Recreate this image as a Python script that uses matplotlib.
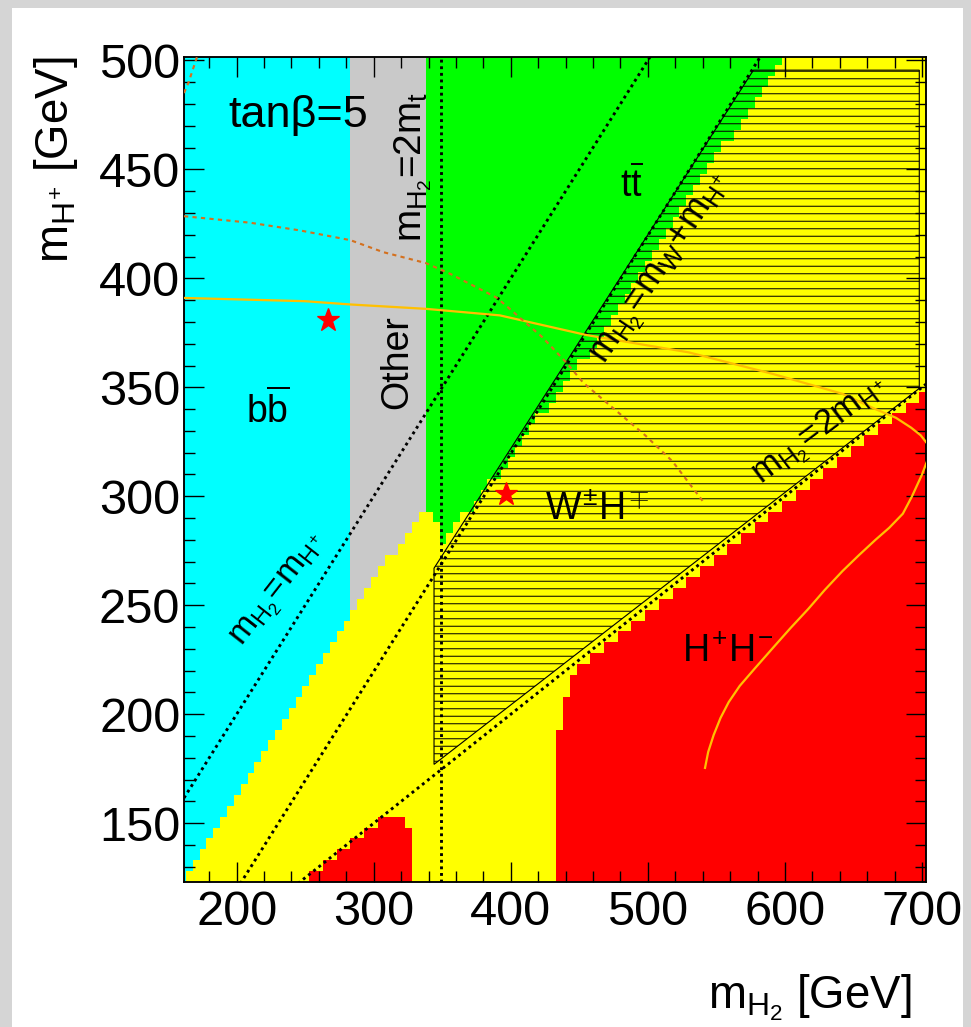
import numpy as np
import matplotlib
matplotlib.use("Agg")
import matplotlib.pyplot as plt
from matplotlib.colors import ListedColormap
from matplotlib.patches import Polygon, Rectangle

plt.rcParams['font.family'] = ['Liberation Sans', 'DejaVu Sans']
plt.rcParams['mathtext.fontset'] = 'custom'
plt.rcParams['mathtext.rm'] = 'Liberation Sans'
plt.rcParams['mathtext.it'] = 'Liberation Sans'
plt.rcParams['mathtext.sf'] = 'Liberation Sans'
plt.rcParams['mathtext.bf'] = 'Liberation Sans:bold'
plt.rcParams['hatch.linewidth'] = 0.8

# ------------------------------------------------------------------ data
X_LIM = (161.6, 702.9)
Y_LIM = (122.9, 501.4)
BIN_W = 5.0
BIN_X_RANGE = (158.0, 708.0)
BIN_Y_RANGE = (118.0, 503.0)

MT = 174.5   # top mass used for the 2 m_t line
MW = 80.4    # W mass

# region boundaries in (m_H2, m_H+)
BB_XMAX = 283.0
BB_EDGE_X = [158.0, 283.0]
BB_EDGE_Y = [120.5, 245.5]

OTHER_XMAX = 338.0
OTHER_EDGE_X = [283.0, 338.0]
OTHER_EDGE_Y = [245.75, 295.25]

TT_EDGE_X = [338.0, 343.0, 343.01, 348.0, 348.01, 350.0, 369.0, 385.0, 404.0,
             420.0, 440.0, 456.0, 557.0, 598.0, 640.0]
TT_EDGE_Y = [293.0, 293.0, 288.0, 288.0, 278.0, 280.0, 294.0, 306.0, 320.0,
             336.0, 352.0, 365.0, 462.0, 500.0, 542.0]

HH_XMIN = 433.0
HH_EDGE_X = [433.0, 438.0, 438.01, 443.0, 443.01, 703.0, 710.0]
HH_EDGE_Y = [194.0, 194.0, 209.0, 209.0, 219.0, 348.0, 351.5]

HH_LOW_XMIN, HH_LOW_XMAX = 253.0, 328.0
HH_LOW_EDGE_X = [253.0, 313.0, 323.0, 323.01, 328.0]
HH_LOW_EDGE_Y = [124.5, 154.5, 154.5, 150.0, 150.0]

REGION_COLORS = ['#FFFF00', '#00FFFF', '#C9C9C9', '#00FF00', '#FF0000']

# hatched W+-H-+ region
WH_POLY_X = [344.0, 344.0, 577.0, 698.0, 698.0]
WH_POLY_Y = [177.0, 267.0, 495.5, 495.5, 349.5]

# orange curves
GOLD_X = [161.6, 250, 283, 338, 392, 455, 530, 592, 642, 666, 681, 692, 699,
          704, 705, 703.6, 700, 692.7, 686, 676, 666, 654, 642, 629, 617, 604,
          592, 578, 567, 559, 553, 548, 544, 541.7]
GOLD_Y = [391, 389.5, 388, 386, 383, 374, 366, 356, 347, 340, 336, 331.5, 328,
          324, 321, 316, 310, 300, 292, 285.5, 280, 273, 265.7, 257, 248.3, 239.5,
          231, 221, 213, 205.6, 198.3, 190.5, 182.7, 175.4]
DOT_ORANGE_X = [161.6, 210, 246, 283, 307, 338, 356, 390, 423, 441, 453, 498, 518, 541]
DOT_ORANGE_Y = [428.5, 425.5, 422, 417.5, 412, 407, 402, 391, 373, 361, 352, 328, 316, 297]
DOT_ORANGE2_X = [161.6, 165.0, 171.0]
DOT_ORANGE2_Y = [485.0, 490.0, 501.4]

STAR_X = [266.6, 396.5]
STAR_Y = [380.9, 301.1]

X_TICKS = [200, 300, 400, 500, 600, 700]
Y_TICKS = [150, 200, 250, 300, 350, 400, 450, 500]

# ------------------------------------------------------------------ region map
xe = np.arange(BIN_X_RANGE[0], BIN_X_RANGE[1] + 0.1, BIN_W)
ye = np.arange(BIN_Y_RANGE[0], BIN_Y_RANGE[1] + 0.1, BIN_W)
xc = 0.5 * (xe[:-1] + xe[1:])
yc = 0.5 * (ye[:-1] + ye[1:])
X, Y = np.meshgrid(xc, yc)
code = np.zeros(X.shape, dtype=int)
code[(X < BB_XMAX) & (Y > np.interp(X, BB_EDGE_X, BB_EDGE_Y))] = 1
code[(X >= BB_XMAX) & (X < OTHER_XMAX) & (Y > np.interp(X, OTHER_EDGE_X, OTHER_EDGE_Y))] = 2
code[(X >= OTHER_XMAX) & (Y > np.interp(X, TT_EDGE_X, TT_EDGE_Y))] = 3
code[(X >= HH_XMIN) & (Y < np.interp(X, HH_EDGE_X, HH_EDGE_Y))] = 4
code[(X >= HH_LOW_XMIN) & (X < HH_LOW_XMAX) & (Y < np.interp(X, HH_LOW_EDGE_X, HH_LOW_EDGE_Y))] = 4

# ------------------------------------------------------------------ figure
DPI = 90
W, H = 971, 1027
fig = plt.figure(figsize=(W / DPI, H / DPI), dpi=DPI, facecolor='#D5D5D5')
fig.patches.append(Rectangle((12 / W, 0), (963 - 12) / W, 1 - 8 / H,
                             transform=fig.transFigure, facecolor='white',
                             edgecolor='none', zorder=-5))

ax = fig.add_axes([184 / W, 1 - 882.3 / H, (926 - 184) / W, (882.3 - 57.3) / H])
ax.set_zorder(2)
ax.pcolormesh(xe, ye, code, cmap=ListedColormap(REGION_COLORS), vmin=-0.5,
              vmax=4.5, shading='flat', antialiased=False, zorder=1)

ax.add_patch(Polygon(np.column_stack([WH_POLY_X, WH_POLY_Y]), closed=True,
                     fill=False, hatch='--', edgecolor='black', lw=0.9, zorder=2))

dot = dict(color='black', lw=2.3, ls=(0, (1, 1.3)), dash_capstyle='butt', zorder=3)
xl = np.array([X_LIM[0], X_LIM[1]])
ax.plot(xl, xl, **dot)                 # m_H2 = m_H+
ax.plot(xl, xl - MW, **dot)            # m_H2 = m_W + m_H+
ax.plot(xl, xl / 2.0, **dot)           # m_H2 = 2 m_H+
ax.plot([2 * MT, 2 * MT], Y_LIM, **dot)  # m_H2 = 2 m_t

ax.plot(GOLD_X, GOLD_Y, color='#FFC000', lw=1.8, zorder=4,
        solid_joinstyle='round')
ax.plot(DOT_ORANGE_X, DOT_ORANGE_Y, color='#D4701E', lw=1.7,
        ls=(0, (2, 2)), zorder=4)
ax.plot(DOT_ORANGE2_X, DOT_ORANGE2_Y, color='#D4701E', lw=1.7,
        ls=(0, (2, 2)), zorder=4)
ax.plot(STAR_X, STAR_Y, ls='none', marker='*', ms=19, color='#FF0000',
        mec='#FF0000', zorder=5)

ax.set_xlim(*X_LIM)
ax.set_ylim(*Y_LIM)
ax.set_xticks(X_TICKS)
ax.set_yticks(Y_TICKS)
ax.set_xticks(np.arange(180, 701, 20), minor=True)
ax.set_yticks(np.arange(130, 501, 10), minor=True)
ax.tick_params(which='both', direction='in', top=True, right=True, width=1.1,
               labelsize=39, color='black')
ax.tick_params(which='major', length=16)
ax.tick_params(which='minor', length=8.5)
ax.tick_params(axis='x', pad=6)
ax.tick_params(axis='y', pad=3)
for s in ax.spines.values():
    s.set_linewidth(1.5)

# labels inside the plot
fs = 30
ax.text(193.7, 474.9, r'tanβ=5', fontsize=36, ha='left', va='center', zorder=6)
ax.text(222.8, 339.6, r'$b\overline{b}$', fontsize=fs, ha='center', va='center', zorder=6)
ax.text(317.0, 361.5, 'Other', fontsize=fs, rotation=90, ha='center', va='center', zorder=6)
ax.text(328.5, 451.0, r'$m_{H_{2}}$=2$m_{t}$', fontsize=31, rotation=90,
        ha='center', va='center', zorder=6)
ax.text(488.3, 442.8, r'$t\overline{t}$', fontsize=fs, ha='center', va='center', zorder=6)
ax.text(511.0, 404.0, r'$m_{H_{2}}\!=\!m_{W}\!+\!m_{H^{+}}$', fontsize=29, rotation=56,
        ha='center', va='center', rotation_mode='anchor', zorder=6)
ax.text(462.9, 293.6, r'$W^{\pm}H^{\mp}$', fontsize=fs, ha='center', va='center', zorder=6)
ax.text(231.5, 256.5, r'$m_{H_{2}}\!=\!m_{H^{+}}$', fontsize=27, rotation=52,
        ha='center', va='center', rotation_mode='anchor', zorder=6)
ax.text(625.5, 330.2, r'$m_{H_{2}}\!=\!2m_{H^{+}}$', fontsize=28, rotation=37,
        ha='center', va='center', rotation_mode='anchor', zorder=6)
ax.text(558.3, 228.6, r'$H^{+}H^{-}$', fontsize=fs, ha='center', va='center', zorder=6)

# axis titles
fig.text(912 / W, 1 - 1008 / H, r'$m_{H_{2}}$ [GeV]', fontsize=36.5, ha='right',
         va='baseline')
fig.text(68 / W, 1 - 57 / H, r'$m_{H^{+}}$ [GeV]', fontsize=36.5, rotation=90,
         rotation_mode='anchor', ha='right', va='baseline')

fig.savefig('out.png', dpi=DPI, facecolor=fig.get_facecolor())
